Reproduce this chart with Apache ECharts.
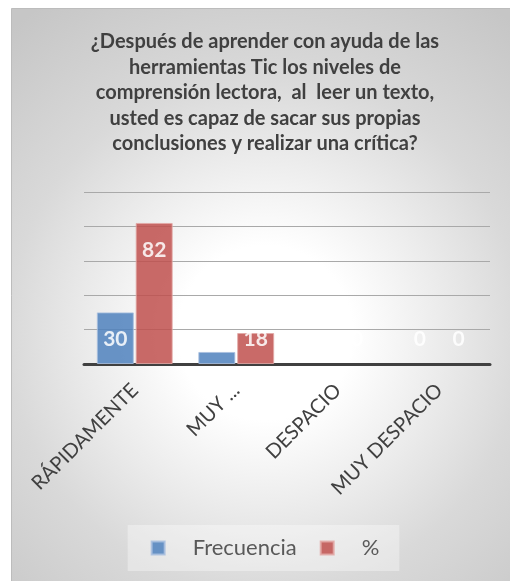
<!DOCTYPE html>
<html>
<head>
<meta charset="utf-8">
<script src="https://cdn.jsdelivr.net/npm/echarts@6/dist/echarts.min.js"></script>
<style>
html,body{margin:0;padding:0;background:#ffffff;overflow:hidden;}
#chart{width:530px;height:581px;}
</style>
</head>
<body>
<div id="chart"></div>
<script>
const titleText = '¿Después de aprender con ayuda de las\nherramientas Tic los niveles de\ncomprensión lectora,  al  leer un texto,\nusted es capaz de sacar sus propias\nconclusiones y realizar una crítica?';
const categories = ['RÁPIDAMENTE', 'MUY ...', 'DESPACIO', 'MUY DESPACIO'];
const frecuencia = [30, 7, 0, 0];
const porcentaje = [82, 18, 0, 0];
const seriesNames = ['Frecuencia', '%'];

const chart = echarts.init(document.getElementById('chart'), null, {renderer: 'canvas'});

function buildData(arr) {
  return arr.map(v => ({
    value: v,
    label: v > 50
      ? {position: 'insideTop', distance: 17}
      : {position: 'insideBottom', distance: 14},
    itemStyle: v === 0 ? {borderWidth: 0} : {}
  }));
}

const barLabel = {
  show: true,
  color: '#ffffff',
  fontFamily: 'Lato',
  fontWeight: 'bold',
  fontSize: 21
};

chart.setOption({
  animation: false,
  textStyle: {fontFamily: 'Lato'},
  graphic: [{
    type: 'rect',
    z: -10,
    silent: true,
    shape: {x: 11.5, y: 8.5, width: 508, height: 590},
    style: {
      fill: new echarts.graphic.RadialGradient(0.5, 0.55, 0.78, [
        {offset: 0, color: '#ffffff'},
        {offset: 0.22, color: '#ffffff'},
        {offset: 0.45, color: '#ebebeb'},
        {offset: 0.65, color: '#d9d9d9'},
        {offset: 1, color: '#c6c6c6'}
      ]),
      stroke: '#bcbcbc',
      lineWidth: 1
    }
  }],
  title: {
    text: titleText,
    left: 'center',
    top: 29,
    padding: 0,
    textStyle: {
      fontFamily: 'Lato',
      fontWeight: 'bold',
      fontSize: 20,
      lineHeight: 25.5,
      color: '#404040'
    }
  },
  legend: {
    data: seriesNames,
    left: 'center',
    top: 525,
    padding: [12, 20, 12, 23],
    backgroundColor: 'rgba(255,255,255,0.35)',
    itemWidth: 13,
    itemHeight: 13,
    itemGap: 23,
    icon: 'rect',
    textStyle: {
      fontFamily: 'Lato',
      fontSize: 22,
      color: '#595959',
      padding: [0, 0, 0, 23]
    }
  },
  grid: {left: 84, right: 40, top: 192, bottom: 217, containLabel: false},
  xAxis: {
    type: 'category',
    data: categories,
    axisTick: {show: false},
    axisLine: {lineStyle: {color: '#404040', width: 3}},
    axisLabel: {
      interval: 0,
      rotate: 45,
      margin: 23,
      fontFamily: 'Lato',
      fontSize: 20,
      color: '#404040'
    }
  },
  yAxis: {
    type: 'value',
    min: 0,
    max: 100,
    interval: 20,
    axisLabel: {show: false},
    axisLine: {show: false},
    axisTick: {show: false},
    splitLine: {lineStyle: {color: '#a9a9a9', width: 1}}
  },
  series: [
    {
      name: seriesNames[0],
      type: 'bar',
      data: buildData(frecuencia),
      barWidth: 37,
      barGap: '5%',
      itemStyle: {color: '#4F81BD', opacity: 0.85, borderColor: '#a9c0df', borderWidth: 1},
      label: barLabel
    },
    {
      name: seriesNames[1],
      type: 'bar',
      data: buildData(porcentaje),
      barWidth: 37,
      itemStyle: {color: '#C0504D', opacity: 0.85, borderColor: '#e3a9a7', borderWidth: 1},
      label: barLabel
    }
  ]
});
</script>
</body>
</html>
